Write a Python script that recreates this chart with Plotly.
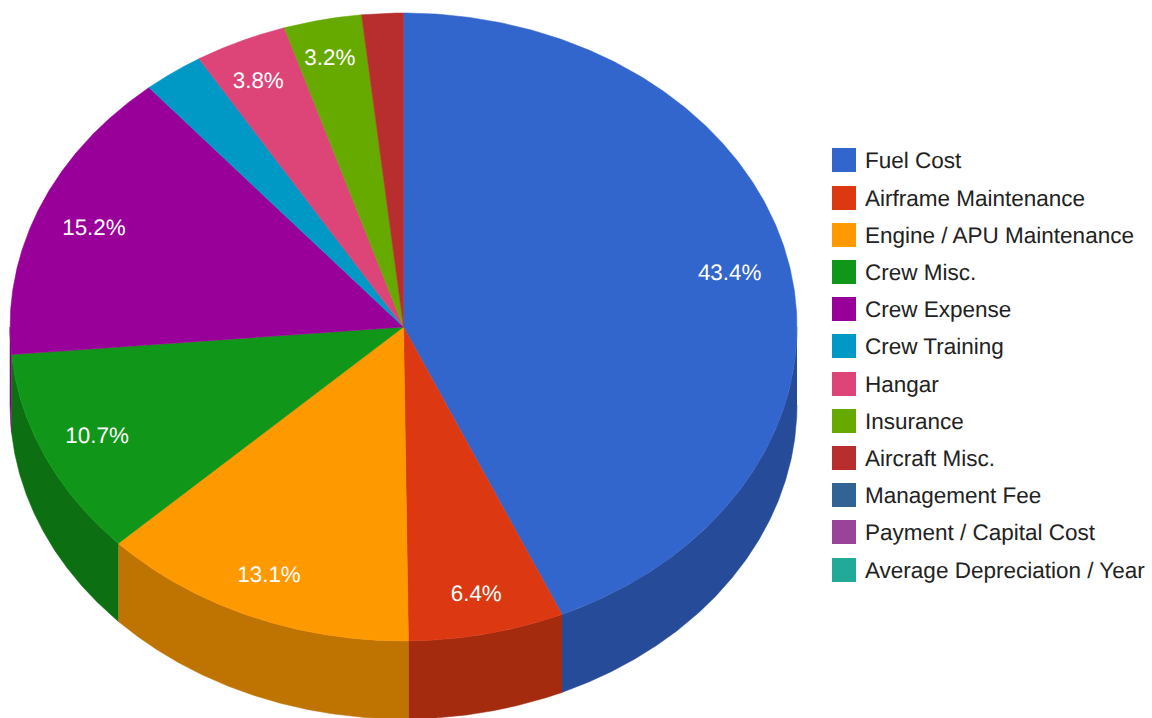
import numpy as np
import plotly.graph_objects as go

categories = ["Fuel Cost", "Airframe Maintenance", "Engine / APU Maintenance", "Crew Misc.",
              "Crew Expense", "Crew Training", "Hangar", "Insurance", "Aircraft Misc.",
              "Management Fee", "Payment / Capital Cost", "Average Depreciation / Year"]
shares = [43.4, 6.4, 13.1, 10.7, 15.2, 2.5, 3.8, 3.2, 1.7, 0, 0, 0]
colors = ["#3366CC", "#DC3912", "#FF9900", "#109618", "#990099", "#0099C6",
          "#DD4477", "#66AA00", "#B82E2E", "#316395", "#994499", "#22AA99"]
side_colors = ["#264C99", "#A52B0E", "#BF7300", "#0C7012", "#730073", "#007395",
               "#A63359", "#4D8000", "#8A2323", "#254A70", "#733373", "#1A8073"]
legend_rows = [160, 198, 235, 272, 309, 346, 384, 421, 458, 495, 532, 570]

CX, CY, RX, RY, DEPTH = 403.5, 327.0, 393.5, 314.0, 78.0
LABEL_R = 0.86
label_dx = [-5, 1, -3, 2, 3.5, -5, -4]
label_dy = [3, 5, 1, -1, 5, 1, -3]
LEGEND_TEXT_DY = 2
FONT = "Liberation Sans, Arial, sans-serif"

values = np.array(shares, dtype=float)
edges = np.concatenate([[0.0], np.cumsum(values)]) / values.sum() * 2 * np.pi


def ex(t):
    return CX + RX * np.sin(t)


def ey(t):
    return CY - RY * np.cos(t)


fig = go.Figure()

# side wall: only the part of each slice on the near half of the ellipse
for name, a, b, col in zip(categories, edges[:-1], edges[1:], side_colors):
    lo, hi = max(a, np.pi / 2), min(b, 3 * np.pi / 2)
    if hi <= lo:
        continue
    t = np.linspace(lo, hi, 200)
    xs = np.concatenate([ex(t), ex(t[::-1])])
    ys = np.concatenate([ey(t), ey(t[::-1]) + DEPTH])
    fig.add_trace(go.Scatter(x=xs, y=ys, mode="lines", fill="toself", fillcolor=col,
                             line=dict(color=col, width=0.5), hoverinfo="skip", showlegend=False))

# top face
for name, v, a, b, col in zip(categories, shares, edges[:-1], edges[1:], colors):
    if v <= 0:
        continue
    t = np.linspace(a, b, 300)
    xs = np.concatenate([[CX], ex(t), [CX]])
    ys = np.concatenate([[CY], ey(t), [CY]])
    fig.add_trace(go.Scatter(x=xs, y=ys, mode="lines", fill="toself", fillcolor=col,
                             line=dict(color=col, width=0.5), name=name,
                             hoveron="fills", showlegend=False))

# percentage labels
mids = (edges[:-1] + edges[1:]) / 2
shown = values >= 3
fig.add_trace(go.Scatter(
    x=CX + LABEL_R * RX * np.sin(mids[shown]) + np.array(label_dx),
    y=CY - LABEL_R * RY * np.cos(mids[shown]) + np.array(label_dy),
    mode="text", text=[f"{v:.1f}%" for v in values[shown]],
    textposition="middle center",
    textfont=dict(family=FONT, size=22.4, color="#ffffff"),
    hoverinfo="skip", showlegend=False))

# legend
fig.add_trace(go.Scatter(
    x=[844] * len(categories), y=legend_rows, mode="markers",
    marker=dict(symbol="square", size=24, color=colors, line=dict(width=0)),
    hoverinfo="skip", showlegend=False))
fig.add_trace(go.Scatter(
    x=[865] * len(categories), y=np.array(legend_rows) + LEGEND_TEXT_DY, mode="text", text=categories,
    textposition="middle right",
    textfont=dict(family=FONT, size=22.5, color="#222222"),
    hoverinfo="skip", showlegend=False))

fig.update_layout(
    width=1152, height=718, margin=dict(l=0, r=0, t=0, b=0),
    paper_bgcolor="#ffffff", plot_bgcolor="#ffffff",
    xaxis=dict(range=[0, 1152], visible=False, fixedrange=True),
    yaxis=dict(range=[718, 0], visible=False, fixedrange=True),
)
fig.write_html(
    "out.html",
    config={"displayModeBar": False},
    post_script="document.body.style.margin='0';document.documentElement.style.overflow='hidden';"
                "document.body.style.textRendering='geometricPrecision';",
)
